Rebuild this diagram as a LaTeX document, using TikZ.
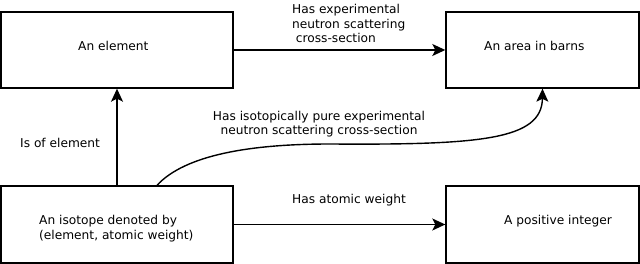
\documentclass[tikz,border=0pt]{standalone}
\usepackage{fontspec}
\setmainfont{DejaVu Sans}
\usetikzlibrary{arrows.meta}
\usetikzlibrary{positioning}

\begin{document}
\begin{tikzpicture}[x=1pt,y=-1pt,
  every node/.style={font=\fontsize{12.2}{14.6}\selectfont},
  box/.style={draw,line width=1.4pt,inner sep=0pt,minimum height=76pt},
  link/.style={line width=1.4pt,-{Stealth[length=13pt,width=12pt,inset=3pt]}},
  lbl/.style={inner sep=0pt,anchor=west,align=left}]
\useasboundingbox (0,0) rectangle (640,264);
% the four boxes
\node[box,minimum width=232pt] (element) at (117,50) {};
\node[box,minimum width=193pt] (area) at (542.5,50) {};
\node[box,minimum width=232pt,minimum height=77pt] (isotope) at (117,224.5) {};
\node[box,minimum width=193pt,minimum height=77pt] (integer) at (542.5,224.5) {};
% texts in the boxes
\node[lbl] (elementtext) at (78,45.5) {An element};
\node[lbl] (areatext) at (484,45.5) {An area in barns};
\node[lbl] (isotopetext) at (39,228.5) {An isotope denoted by\\(element, atomic weight)};
\node[lbl] (integertext) at (504,220.8) {A positive integer};
% labels of the links
\node[lbl] (crosslabel) at (292,23.7) {Has experimental\\neutron scattering\\\hspace*{0.3em}cross-section};
\node[lbl] (oflabel) at (20,142.8) {Is of element};
\node[inner sep=0pt,align=center] (purelabel) at (319,124.2) {Has isotopically pure experimental\\neutron scattering cross-section};
\node[lbl] (weightlabel) at (292,199.8) {Has atomic weight};
% links
\draw[link] (element) -- (area);
\draw[link] (isotope) -- (element);
\draw[link] (isotope) -- (integer);
\coordinate (bend) at (330,144);
\draw[link] ([xshift=40pt]isotope.north) .. controls (185,155) and (250,144) .. (bend)
  .. controls (480,145) and (542,140) .. (area.south);
\end{tikzpicture}
\end{document}
